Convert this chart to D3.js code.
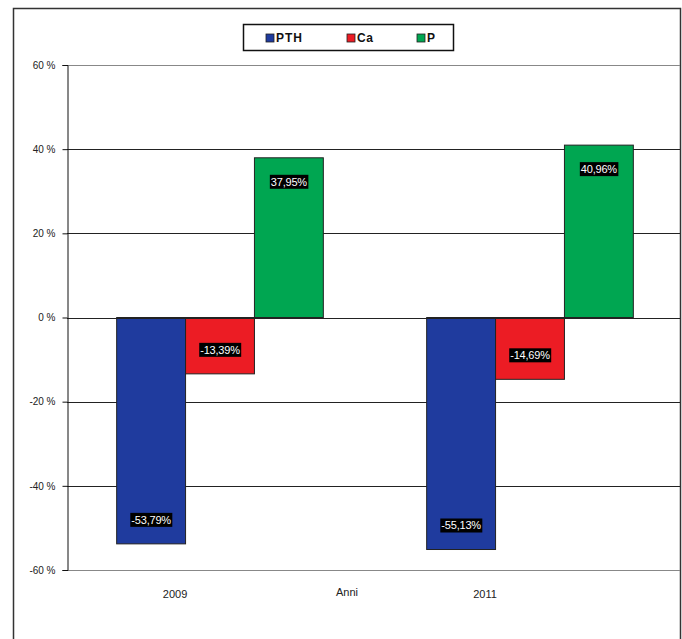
<!DOCTYPE html>
<html><head><meta charset="utf-8">
<script src="https://cdn.jsdelivr.net/npm/d3@7"></script>
<style>body{margin:0;background:#fff}svg{display:block}</style>
</head><body>
<script>
const years = ["2009", "2011"];
const seriesNames = ["PTH", "Ca", "P"];
const PTH = [-53.79, -55.13];
const Ca = [-13.39, -14.69];
const P = [37.95, 40.96];
const labelsPTH = ["-53,79%", "-55,13%"];
const labelsCa = ["-13,39%", "-14,69%"];
const labelsP = ["37,95%", "40,96%"];
const yTicks = [-60, -40, -20, 0, 20, 40, 60];
const colors = {PTH: "#1f3b9e", Ca: "#ec1c24", P: "#00a651"};

const values = {PTH, Ca, P};
const labels = {PTH: labelsPTH, Ca: labelsCa, P: labelsP};

const W = 682, H = 639;
const svg = d3.select("body").append("svg").attr("width", W).attr("height", H);
svg.append("rect").attr("width", W).attr("height", H).attr("fill", "#fff");

// outer frame
svg.append("rect").attr("x", 13.5).attr("y", 8.5).attr("width", 667).attr("height", 640)
  .attr("fill", "none").attr("stroke", "#333").attr("stroke-width", 1.5);

const y = d3.scaleLinear().domain([-60, 60]).range([570, 65]);
const x0 = d3.scaleBand().domain(years).range([65, 685]);
const x1 = d3.scaleBand().domain(seriesNames).range([0, x0.bandwidth()]).paddingInner(0).paddingOuter(0.75);

const clip = svg.append("clipPath").attr("id", "c").append("rect")
  .attr("x", 0).attr("y", 0).attr("width", 680).attr("height", H);

const plotG = svg.append("g").attr("clip-path", "url(#c)");

// gridlines
plotG.selectAll("line.grid").data(yTicks).join("line")
  .attr("x1", 67).attr("x2", 690)
  .attr("y1", d => Math.round(y(d)) + 0.5).attr("y2", d => Math.round(y(d)) + 0.5)
  .attr("stroke", d => (d === 60 || d === -60) ? "#888" : "#222").attr("stroke-width", 1.2);

// bars
const rows = [];
years.forEach((yr, i) => seriesNames.forEach(s => rows.push({yr, s, v: values[s][i], lab: labels[s][i]})));

plotG.selectAll("rect.bar").data(rows).join("rect")
  .attr("x", d => x0(d.yr) + x1(d.s))
  .attr("width", x1.bandwidth())
  .attr("y", d => y(Math.max(0, d.v)))
  .attr("height", d => Math.abs(y(d.v) - y(0)))
  .attr("fill", d => colors[d.s])
  .attr("stroke", "#222").attr("stroke-width", 1);

// zero line on top
plotG.append("line").attr("x1", 67).attr("x2", 690)
  .attr("y1", Math.round(y(0)) + 0.5).attr("y2", Math.round(y(0)) + 0.5)
  .attr("stroke", "#222").attr("stroke-width", 1.2);

// y axis
const yAxis = d3.axisLeft(y).tickValues(yTicks).tickSize(5).tickFormat(d => d + " %");
const ya = svg.append("g").attr("transform", "translate(67.5,0)").call(yAxis);
ya.select(".domain").attr("stroke", "#111");
ya.selectAll(".tick line").attr("stroke", "#111");
ya.selectAll("text").attr("font-family", "Arial, 'Liberation Sans', sans-serif")
  .attr("font-size", 10).attr("fill", "#222").attr("dx", -4);

// data labels
const lg = svg.selectAll("g.lab").data(rows).join("g")
  .attr("transform", d => {
    const cx = x0(d.yr) + x1(d.s) + x1.bandwidth() / 2;
    const cy = d.v >= 0 ? y(d.v) + 24 : y(d.v) - 24;
    return `translate(${cx},${cy})`;
  });
lg.each(function(d) {
  const g = d3.select(this);
  const t = g.append("text").text(d.lab)
    .attr("text-anchor", "middle").attr("dy", "0.36em")
    .attr("font-family", "Arial, 'Liberation Sans', sans-serif")
    .attr("font-size", 11).attr("fill", "#fff").attr("letter-spacing", "-0.2px");
  const bb = t.node().getBBox();
  g.insert("rect", "text").attr("x", bb.x - 1).attr("y", -7).attr("width", bb.width + 2).attr("height", 14)
    .attr("fill", "#000");
});

// x labels
svg.selectAll("text.xl").data(years).join("text")
  .attr("x", d => x0(d) + x0.bandwidth() * 0.355)
  .attr("y", 598)
  .attr("text-anchor", "middle")
  .attr("font-family", "Arial, 'Liberation Sans', sans-serif")
  .attr("font-size", 11).attr("fill", "#222")
  .text(d => d);

svg.append("text").attr("x", 347).attr("y", 596).attr("text-anchor", "middle")
  .attr("font-family", "Arial, 'Liberation Sans', sans-serif")
  .attr("font-size", 11).attr("fill", "#222").text("Anni");

// legend
const leg = svg.append("g");
leg.append("rect").attr("x", 243.5).attr("y", 24.5).attr("width", 210).attr("height", 26)
  .attr("fill", "#fff").attr("stroke", "#111").attr("stroke-width", 1.5);
const legX = [266, 347, 417];
const li = leg.selectAll("g.li").data(seriesNames).join("g")
  .attr("transform", (d, i) => `translate(${legX[i]},38)`);
li.append("rect").attr("x", 0).attr("y", -4).attr("width", 8).attr("height", 8)
  .attr("fill", d => colors[d]).attr("stroke", "#222").attr("stroke-width", 0.8);
li.append("text").attr("x", 10).attr("dy", "0.36em")
  .attr("font-family", "Arial, 'Liberation Sans', sans-serif")
  .attr("font-weight", "bold").attr("font-size", 12).attr("fill", "#111")
  .attr("letter-spacing", d => d === "PTH" ? "1px" : "0.5px")
  .text(d => d);
</script>
</body></html>
